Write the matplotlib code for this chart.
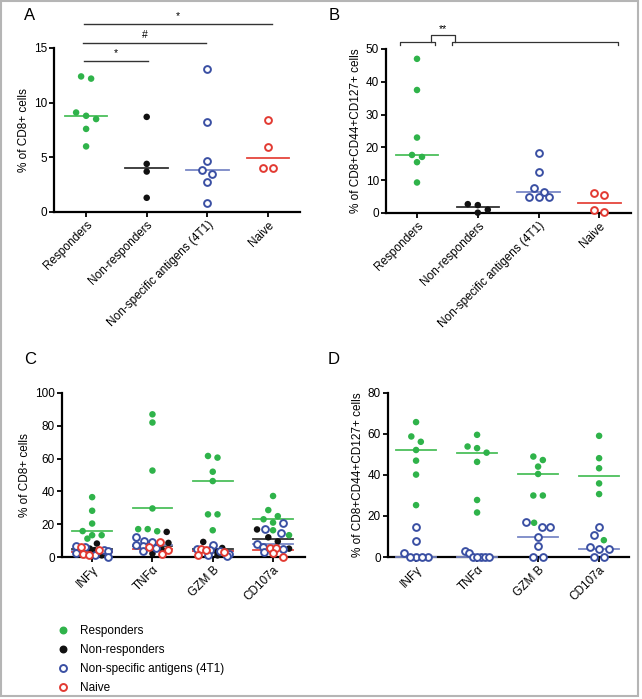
import numpy as np
import matplotlib
matplotlib.use("Agg")
import matplotlib.pyplot as plt
from matplotlib.lines import Line2D
from matplotlib.patches import Rectangle

plt.rcParams['font.family'] = ['Liberation Sans', 'DejaVu Sans']

groups = ['Responders', 'Non-responders', 'Non-specific antigens (4T1)', 'Naive']
cytokines = ['INFγ', 'TNFα', 'GZM B', 'CD107a']

# panel A: % of CD8+ cells
a_resp = [12.4, 12.2, 9.1, 8.8, 8.5, 7.6, 6.0]
a_nonresp = [8.7, 4.4, 3.7, 1.3]
a_nonspec = [13.1, 8.2, 4.7, 3.8, 3.5, 2.7, 0.8]
a_naive = [8.4, 5.9, 4.0, 4.0]

# panel B: % of CD8+CD44+CD127+ cells
b_resp = [47.0, 37.5, 23.0, 17.7, 17.1, 15.5, 9.3]
b_nonresp = [2.4, 0.1, 1.0, 2.7]
b_nonspec = [18.2, 12.6, 7.6, 6.3, 5.0, 5.0, 5.0]
b_naive = [6.0, 5.5, 0.9, 0.3]

# panel C: per cytokine, % of CD8+ cells
c_resp = [[36.5, 28.2, 20.4, 15.8, 13.3, 13.3, 11.2],
          [87.0, 82.0, 52.7, 29.6, 17.0, 17.0, 15.7],
          [61.6, 60.6, 52.0, 46.3, 26.0, 26.0, 16.3],
          [37.2, 28.6, 24.9, 23.0, 21.0, 16.3, 13.3]]
c_nonresp = [[8.2, 5.1, 4.2, 1.0],
             [15.3, 8.6, 4.5, 2.1],
             [9.2, 5.5, 4.0, 1.0],
             [16.8, 12.0, 9.5, 5.1]]
c_nonspec = [[6.8, 5.8, 4.0, 3.5, 2.5, 1.5, 0.2],
             [12.5, 9.5, 9.0, 7.5, 6.5, 5.5, 3.5],
             [7.5, 5.0, 4.0, 3.5, 2.0, 1.0, 0.5],
             [20.8, 16.8, 14.5, 8.0, 6.1, 5.1, 3.1]]
c_naive = [[6.0, 4.0, 2.0, 1.5],
           [9.0, 6.0, 4.0, 2.0],
           [5.0, 4.0, 3.0, 1.0],
           [5.7, 5.5, 2.5, 0.3]]

# panel D: per cytokine, % of CD8+CD44+CD127+ cells
d_resp = [[65.8, 58.8, 56.2, 52.2, 47.0, 40.2, 25.3],
          [59.6, 53.9, 53.1, 50.9, 46.4, 27.8, 21.7],
          [49.0, 47.3, 44.1, 40.5, 30.0, 30.0, 16.7],
          [59.1, 48.2, 43.3, 35.9, 30.7, 8.2]]
d_nonspec = [[14.4, 8.0, 2.1, 0.2, 0.2, 0.2, 0.2],
             [2.9, 2.0, 0.2, 0.2, 0.2, 0.2, 0.2],
             [17.1, 14.4, 14.4, 9.8, 5.4, 0.2, 0.2],
             [14.4, 10.6, 4.9, 4.1, 3.8, 0.2, 0.2]]

green = '#2fb34a'
black = '#111111'
blue = '#3a4fa3'
red = '#e23a32'
line_col = {green: '#4cbf5c', black: '#333333', blue: '#7a88c6', red: '#e5453d'}
filled = {green: True, black: True, blue: False, red: False}

fig = plt.figure(figsize=(6.42, 6.99), dpi=100)
W, H = 642, 699


def make_ax(l, r, t, b, xlim, ymax, ystep, ylabel):
    ax = fig.add_axes([l / W, 1 - b / H, (r - l) / W, (b - t) / H])
    ax.set_xlim(*xlim)
    ax.set_ylim(0, ymax)
    ax.set_yticks(np.arange(0, ymax + 0.1, ystep))
    ax.set_xticks(range(4))
    for s in ['top', 'right']:
        ax.spines[s].set_visible(False)
    for s in ['left', 'bottom']:
        ax.spines[s].set_linewidth(1.6)
    ax.tick_params(direction='out', length=3.5, width=1.3, labelsize=8.5, pad=1.5)
    ax.set_ylabel(ylabel, fontsize=8.5, labelpad=3)
    ax.patch.set_alpha(0)
    return ax


def swarm(ax, xc, vals, row_h=7.0, sp=10.0, maxw=40.0):
    # group points into horizontal rows (in pixels) and centre each row on xc
    inv = ax.transData.inverted()
    cx = ax.transData.transform((xc, 0))[0]
    py = [ax.transData.transform((xc, v))[1] for v in vals]
    order = np.argsort(py)[::-1]
    rows, cur, start = [], [], None
    for i in order:
        if cur and start - py[i] > row_h:
            rows.append(cur)
            cur = []
        if not cur:
            start = py[i]
        cur.append(i)
    if cur:
        rows.append(cur)
    xs = [0.0] * len(vals)
    for row in rows:
        n = len(row)
        step = sp if n < 2 else min(sp, maxw / (n - 1))
        for j, i in enumerate(row):
            px = cx + (j - (n - 1) / 2) * step
            xs[i] = inv.transform((px, py[i]))[0]
    return xs


def draw_pts(ax, xs, vals, col):
    if filled[col]:
        ax.scatter(xs, vals, s=22, c=col, edgecolors='none', zorder=4, clip_on=False)
    else:
        ax.scatter(xs, vals, s=24, facecolors='white', edgecolors=col, linewidths=1.4,
                   zorder=4, clip_on=False)


def draw_median(ax, xc, vals, col, half=0.35):
    m = np.median(vals)
    ax.plot([xc - half, xc + half], [m, m], color=line_col[col], lw=1.3, zorder=3,
            clip_on=False)


def simple_panel(ax, data, cols):
    for i, (vals, col) in enumerate(zip(data, cols)):
        xs = swarm(ax, i, vals)
        draw_median(ax, i, vals, col)
        draw_pts(ax, xs, vals, col)


def multi_panel(ax, series, cols, maxw):
    for i in range(4):
        allv = []
        allc = []
        for s, col in zip(series, cols):
            allv += s[i]
            allc += [col] * len(s[i])
        xs = swarm(ax, i, allv, row_h=6.5, sp=9.5, maxw=maxw)
        for s, col in zip(series, cols):
            draw_median(ax, i, s[i], col, half=0.33)
        for col in cols:
            idx = [j for j, c in enumerate(allc) if c == col]
            draw_pts(ax, [xs[j] for j in idx], [allv[j] for j in idx], col)


four_cols = [green, black, blue, red]

# A
axA = make_ax(54, 300, 48, 212, (-0.53, 3.53), 15, 5, '% of CD8+ cells')
simple_panel(axA, [a_resp, a_nonresp, a_nonspec, a_naive], four_cols)
axA.set_xticklabels(groups, rotation=45, ha='right', rotation_mode='anchor', fontsize=8.5)
sig_a = [(-0.03, 1.02, 13.8, '*'), (-0.05, 1.98, 15.5, '#'), (-0.03, 3.06, 17.2, '*')]
for x0, x1, y, lab in sig_a:
    axA.plot([x0, x1], [y, y], color='#333333', lw=1.0, clip_on=False)
    axA.text((x0 + x1) / 2, y + 0.25, lab, ha='center', va='bottom', fontsize=7.5)

# B
axB = make_ax(386, 631, 49, 213, (-0.51, 3.52), 50, 10, '% of CD8+CD44+CD127+ cells')
simple_panel(axB, [b_resp, b_nonresp, b_nonspec, b_naive], four_cols)
axB.set_xticklabels(groups, rotation=45, ha='right', rotation_mode='anchor', fontsize=8.5)
bk = dict(color='#333333', lw=0.9, clip_on=False)
yb, yt = 52.1, 54.3
axB.plot([-0.28, -0.28, 0.30, 0.30], [yb - 0.9, yb, yb, yb - 0.9], **bk)
axB.plot([0.58, 0.58, 3.31, 3.31], [yb - 0.9, yb, yb, yb - 0.9], **bk)
axB.plot([0.23, 0.23, 0.63, 0.63], [yb, yt, yt, yb], **bk)
axB.text(0.43, yt + 0.3, '**', ha='center', va='bottom', fontsize=7.5)

# C
axC = make_ax(62, 305, 393, 557, (-0.5, 3.53), 100, 20, '% of CD8+ cells')
multi_panel(axC, [c_resp, c_nonresp, c_nonspec, c_naive], four_cols, maxw=32)
axC.set_xticklabels(cytokines, rotation=45, ha='right', rotation_mode='anchor', fontsize=8.5)

# D
axD = make_ax(388, 629, 393, 557, (-0.46, 3.49), 80, 20, '% of CD8+CD44+CD127+ cells')
multi_panel(axD, [d_resp, d_nonspec], [green, blue], maxw=24)
axD.set_xticklabels(cytokines, rotation=45, ha='right', rotation_mode='anchor', fontsize=8.5)

fig.text(30 / W, 1 - 15 / H, 'A', fontsize=12, ha='center', va='center')
fig.text(334 / W, 1 - 15 / H, 'B', fontsize=12, ha='center', va='center')
fig.text(30 / W, 1 - 360 / H, 'C', fontsize=12, ha='center', va='center')
fig.text(334 / W, 1 - 360 / H, 'D', fontsize=12, ha='center', va='center')

handles = []
for col in four_cols:
    if filled[col]:
        handles.append(Line2D([], [], ls='none', marker='o', ms=4.7, mfc=col, mec=col))
    else:
        handles.append(Line2D([], [], ls='none', marker='o', ms=5, mfc='white', mec=col, mew=1.4))
fig.legend(handles, groups, loc='upper left', bbox_to_anchor=(56 / W, 1 - 625 / H),
           frameon=False, fontsize=8.5, handlelength=1.2, handletextpad=0.85,
           labelspacing=0.6, borderaxespad=0, borderpad=0)

fig.patches.append(Rectangle((1 / W, 3 / H), 637 / W, 695 / H, transform=fig.transFigure,
                             fill=False, ec='#b5b5b5', lw=1.5))

fig.savefig('out.png', dpi=100)
